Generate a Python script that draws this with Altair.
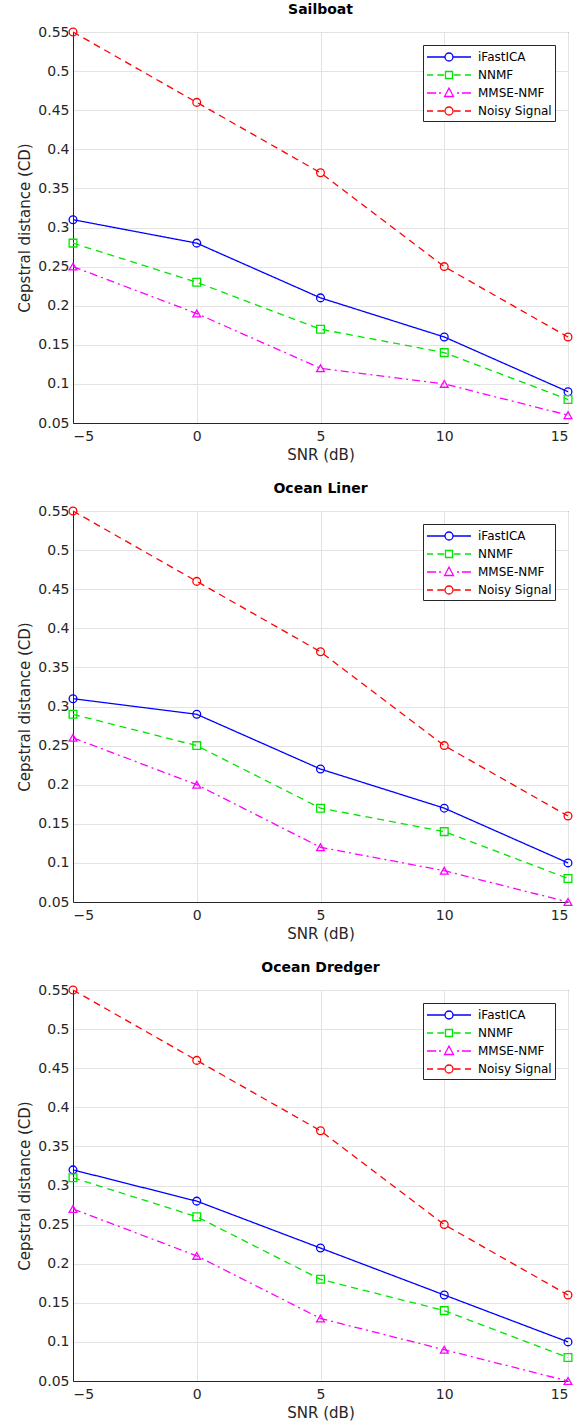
import altair as alt
import pandas as pd

SNR = [-5, 0, 5, 10, 15]
SERIES = ["iFastICA", "NNMF", "MMSE-NMF", "Noisy Signal"]
COLORS = ["#0000ff", "#00e600", "#ff00ff", "#ff0000"]
DASHES = [[1, 0], [7, 5], [8, 4, 2, 4], [7, 5]]
SHAPES = ["circle", "square", "triangle-up", "circle"]

TITLES = ["Sailboat", "Ocean Liner", "Ocean Dredger"]

SAILBOAT_IFASTICA = [0.31, 0.28, 0.21, 0.16, 0.09]
SAILBOAT_NNMF = [0.28, 0.23, 0.17, 0.14, 0.08]
SAILBOAT_MMSE = [0.25, 0.19, 0.12, 0.10, 0.06]
SAILBOAT_NOISY = [0.55, 0.46, 0.37, 0.25, 0.16]

LINER_IFASTICA = [0.31, 0.29, 0.22, 0.17, 0.10]
LINER_NNMF = [0.29, 0.25, 0.17, 0.14, 0.08]
LINER_MMSE = [0.26, 0.20, 0.12, 0.09, 0.05]
LINER_NOISY = [0.55, 0.46, 0.37, 0.25, 0.16]

DREDGER_IFASTICA = [0.32, 0.28, 0.22, 0.16, 0.10]
DREDGER_NNMF = [0.31, 0.26, 0.18, 0.14, 0.08]
DREDGER_MMSE = [0.27, 0.21, 0.13, 0.09, 0.05]
DREDGER_NOISY = [0.55, 0.46, 0.37, 0.25, 0.16]

PANELS = [
    [SAILBOAT_IFASTICA, SAILBOAT_NNMF, SAILBOAT_MMSE, SAILBOAT_NOISY],
    [LINER_IFASTICA, LINER_NNMF, LINER_MMSE, LINER_NOISY],
    [DREDGER_IFASTICA, DREDGER_NNMF, DREDGER_MMSE, DREDGER_NOISY],
]

Y_TICKS = [0.05, 0.1, 0.15, 0.2, 0.25, 0.3, 0.35, 0.4, 0.45, 0.5, 0.55]
X_TICKS = [-5, 0, 5, 10, 15]

FONT = "DejaVu Sans"
AX = "#262626"

# legend symbols: line stub (with its dash pattern) + marker drawn as one path.
# symbol size 256 -> 8 px per path unit; line spans 44 px.
P_CIRCLE = "M0.5,0A0.5,0.5,0,1,1,-0.5,0A0.5,0.5,0,1,1,0.5,0"
P_SQUARE = "M-0.44,-0.44H0.44V0.44H-0.44Z"
P_TRI = "M0,-0.62L0.56,0.44L-0.56,0.44Z"
LEG_PATHS = [
    "M-2.75,0H-0.5M0.5,0H2.75" + P_CIRCLE,
    "M-2.75,0H-2.0M-1.45,0H-0.6M0.6,0H1.45M2.0,0H2.75" + P_SQUARE,
    "M-2.75,0H-1.6M-1.25,0H-1.0M1.0,0H1.25M1.6,0H2.75" + P_TRI,
    "M-2.75,0H-2.0M-1.45,0H-0.6M0.6,0H1.45M2.0,0H2.75" + P_CIRCLE,
]

legend = alt.Legend(
    title=None,
    orient="top-right",
    offset=13,
    fillColor="white",
    strokeColor=AX,
    padding=3,
    labelFont=FONT,
    labelFontSize=12,
    labelColor="#000000",
    labelOffset=20,
    symbolOffset=14,
    symbolSize=256,
    symbolStrokeWidth=1.3,
    rowPadding=2,
)


def panel(title, values):
    rows = []
    for name, vals in zip(SERIES, values):
        for s, v in zip(SNR, vals):
            rows.append({"snr": s, "cd": v, "series": name})
    df = pd.DataFrame(rows)
    base = alt.Chart(df)
    x = alt.X(
        "snr:Q",
        scale=alt.Scale(domain=[-5, 15], nice=False),
        axis=alt.Axis(values=X_TICKS, title="SNR (dB)", format="d"),
    )
    y = alt.Y(
        "cd:Q",
        scale=alt.Scale(domain=[0.05, 0.55], nice=False, zero=False),
        axis=alt.Axis(values=Y_TICKS, title="Cepstral distance (CD)", format="~g"),
    )
    cscale = alt.Scale(domain=SERIES, range=COLORS)
    lines = base.mark_line(strokeWidth=1.3).encode(
        x=x,
        y=y,
        color=alt.Color("series:N", scale=cscale, legend=None),
        strokeDash=alt.StrokeDash(
            "series:N", scale=alt.Scale(domain=SERIES, range=DASHES), legend=None
        ),
    )
    pts = base.mark_point(size=60, strokeWidth=1.3, filled=False, opacity=1).encode(
        x=x,
        y=y,
        color=alt.Color("series:N", scale=cscale, legend=None),
        shape=alt.Shape(
            "series:N", scale=alt.Scale(domain=SERIES, range=SHAPES), legend=None
        ),
    )
    leg = (
        base.transform_filter("false")
        .mark_point(filled=False, opacity=1)
        .encode(
            x=x,
            y=y,
            color=alt.Color("series:N", scale=cscale, legend=legend),
            shape=alt.Shape(
                "series:N", scale=alt.Scale(domain=SERIES, range=LEG_PATHS), legend=legend
            ),
        )
    )
    return (
        alt.layer(lines, pts, leg)
        .resolve_scale(color="independent", shape="independent", strokeDash="independent")
        .properties(
            width=495,
            height=391,
            title=alt.TitleParams(
                title, font=FONT, fontSize=14, fontWeight="bold", color="#000000", offset=8
            ),
        )
    )


chart = (
    alt.vconcat(*[panel(t, v) for t, v in zip(TITLES, PANELS)], spacing=18)
    .properties(padding={"left": 17, "top": 2, "right": 5, "bottom": 2})
    .configure(font=FONT)
    .configure_view(stroke=AX, strokeWidth=1)
    .configure_axis(
        grid=True,
        gridColor="#e3e3e3",
        gridWidth=1,
        domainColor=AX,
        tickSize=0,
        labelFont=FONT,
        labelFontSize=14,
        labelColor=AX,
        labelPadding=4,
        titleFont=FONT,
        titleFontSize=15,
        titleFontWeight="normal",
        titleColor=AX,
    )
    .configure_axisX(titlePadding=4, labelPadding=6)
    .configure_axisY(titlePadding=5)
)

chart.save("out.html", embed_options={"renderer": "svg", "actions": False})
